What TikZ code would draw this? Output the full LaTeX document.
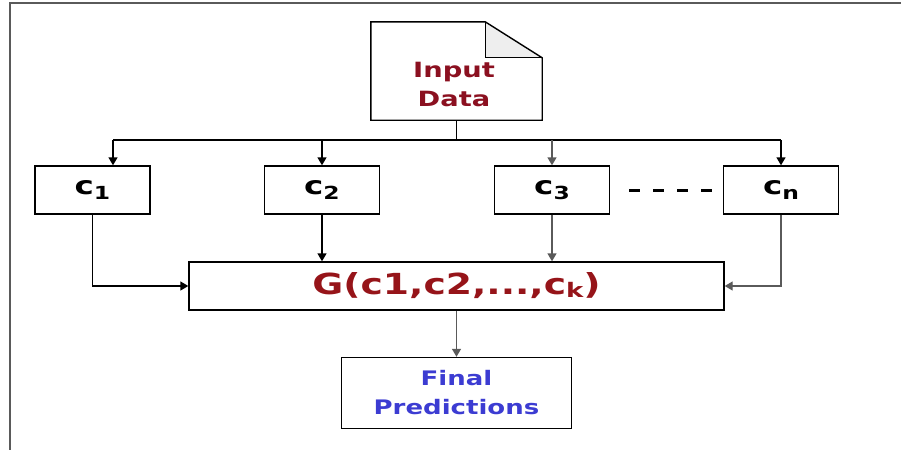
\documentclass[tikz,border=0pt]{standalone}
\usepackage{fontspec}
\newfontfamily\dvs[FakeStretch=1.3]{DejaVu Sans}
\usetikzlibrary{arrows.meta}
\definecolor{inred}{RGB}{139,16,32}
\definecolor{gred}{RGB}{150,20,25}
\definecolor{fblue}{RGB}{60,60,210}
\definecolor{fold}{RGB}{238,238,238}
\definecolor{lgray}{RGB}{90,90,90}
\tikzset{
  box/.style={draw=black, line width=1.4pt, inner sep=0pt, font=\dvs\bfseries},
  cbox/.style={box, minimum width=115pt, minimum height=48pt},
  conn/.style={line width=1.4pt, draw=black},
  arr/.style={conn, -{Triangle[length=8pt,width=9pt]}},
  frame/.style={line width=2pt, draw=lgray},
}
\newcommand{\cc}[1]{{\fontsize{25}{25}\selectfont c}\raisebox{-5pt}{\fontsize{18}{18}\selectfont #1}}
\begin{document}
\begin{tikzpicture}[x=1pt,y=-1pt]
\useasboundingbox (0,0) rectangle (901,450);
% outer frame
\coordinate (ftl) at (10,3);
\coordinate (ftr) at (901,3);
\coordinate (fbl) at (10,450);
\draw[frame] (ftr) -- (ftl) -- (fbl);
% input data document
\coordinate (input) at (456.5,71);
\node[inner sep=0pt, minimum width=171pt, minimum height=98pt] (doc) at (input) {};
\fill[fold] ([xshift=-57pt]doc.north east) -- ([xshift=-57pt,yshift=-36pt]doc.north east) -- ([yshift=-36pt]doc.north east) -- cycle;
\draw[line width=1.4pt, line join=miter] (doc.south west) -- (doc.south east) -- ([yshift=-36pt]doc.north east) -- ([xshift=-57pt]doc.north east) -- (doc.north west) -- cycle;
\draw[line width=1pt] ([xshift=-57pt]doc.north east) -- ([xshift=-57pt,yshift=-36pt]doc.north east) -- ([yshift=-36pt]doc.north east);
\node[inner sep=0pt, font={\dvs\bfseries\fontsize{21}{29}\selectfont}, text=inred, align=center]
  (intext) at (454,84) {Input\\Data};
% classifiers
\node[cbox] (c1) at (92.5,190) {\cc{1}};
\node[cbox] (c2) at (322,190) {\cc{2}};
\node[cbox] (c3) at (552,190) {\cc{3}};
\node[cbox] (cn) at (781,190) {\cc{n}};
% combiner
\node[box, minimum width=535pt, minimum height=48pt, text=gred] (g) at (456.5,286)
  {\fontsize{29}{29}\selectfont G(c1,c2,...,c\raisebox{-3pt}{\fontsize{20}{20}\selectfont k})};
% final
\node[box, minimum width=230pt, minimum height=71pt, text=fblue, align=center, font={\dvs\bfseries\fontsize{20}{29}\selectfont}] (final) at (456.5,393)
  {Final\\Predictions};
% split
\coordinate (split) at (456.5,140);
\coordinate (s1) at (113,140);
\draw[conn] (doc.south) -- (split);
\draw[conn] (s1) -- (cn.north |- split);
\draw[arr] (s1) -- (s1 |- c1.north);
\draw[arr] (c2.north |- split) -- (c2.north);
\draw[arr, draw=lgray] (c3.north |- split) -- (c3.north);
\draw[arr] (cn.north |- split) -- (cn.north);
% dashes
\coordinate (d1) at (629,190);
\coordinate (d2) at (712,190);
\draw[line width=3pt, dash pattern=on 11pt off 13pt] (d1) -- (d2);
% to combiner
\draw[arr] (c1.south) |- (g.west);
\draw[arr] (c2.south) -- (c2.south |- g.north);
\draw[arr, draw=lgray] (c3.south) -- (c3.south |- g.north);
\draw[arr, draw=lgray] (cn.south) |- (g.east);
% to final
\draw[arr, draw=lgray] (g.south) -- (final.north);
\end{tikzpicture}
\end{document}
